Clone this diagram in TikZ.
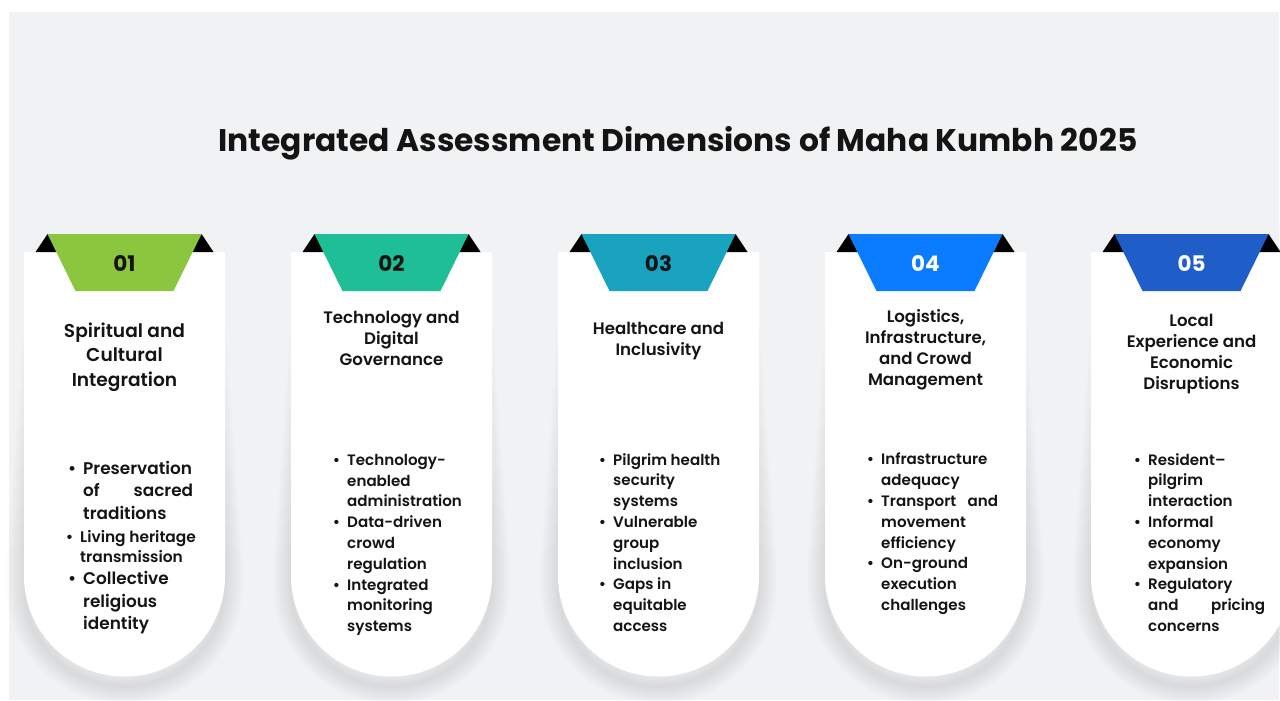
\documentclass[tikz,border=0pt]{standalone}
\usepackage{fontspec}
\setmainfont{Poppins}
\newfontfamily\pmed{Poppins Medium}
\newfontfamily\psemi{Poppins SemiBold}
\definecolor{bgc}{HTML}{F1F2F4}
\definecolor{cA}{HTML}{8CC63E}
\definecolor{cB}{HTML}{1EBE96}
\definecolor{cC}{HTML}{1AA3BF}
\definecolor{cD}{HTML}{0A7CFF}
\definecolor{cE}{HTML}{1F5EC9}
\definecolor{ink}{HTML}{141414}
\newcommand\bl{\llap{\textbullet\hspace{7pt}}}
\newcommand\drawcard[2]{%
  \foreach \w in {3,6,...,36}{%
    \draw[line width=\w pt, draw=black, draw opacity=0.007, yshift=-10pt, line cap=round]
      (#1,-300-7*\w) -- (#1,-576) arc[start angle=180,end angle=360,radius=100.5] -- (#1+201,-300-7*\w);}
  \fill[white] (#1,-252) -- (#1,-576) arc[start angle=180,end angle=360,radius=100.5] -- (#1+201,-252) -- cycle;
  \fill[black] (#1+11.5,-252) -- (#1+23.5,-234) -- (#1+35.5,-252) -- cycle;
  \fill[black] (#1+189.5,-252) -- (#1+177.5,-234) -- (#1+165.5,-252) -- cycle;
  \fill[#2] (#1+23.5,-234) -- (#1+177.5,-234) -- (#1+149.5,-291) -- (#1+51.5,-291) -- cycle;
}
\tikzset{
  numtxt/.style={font=\bfseries\fontsize{21.5}{21.5}\selectfont, inner sep=0pt},
  headtxt/.style={font=\psemi\fontsize{16.6}{21}\selectfont, align=center, inner sep=0pt, text=ink},
  bultxt/.style={font=\psemi\fontsize{15.1}{20.8}\selectfont, align=left, inner sep=0pt, anchor=north west, text=ink},
}
\begin{document}
\begin{tikzpicture}[x=1pt,y=1pt]
\useasboundingbox (0,0) rectangle (1280,-701);
\clip (0,0) rectangle (1280,-701);
\fill[white] (0,0) rectangle (1280,-701);
\fill[bgc] (9,-12) rectangle (1279,-700);

\node[font=\bfseries\fontsize{31.3}{34}\selectfont, text=ink, inner sep=0pt] (title) at (678,-143) {Integrated Assessment Dimensions of Maha Kumbh 2025};

\drawcard{24}{cA}
\drawcard{291}{cB}
\drawcard{558}{cC}
\drawcard{825}{cD}
\drawcard{1091}{cE}

\node[numtxt, text=ink] (n1) at (124.5,-263.5) {01};
\node[numtxt, text=ink] (n2) at (391.5,-263.5) {02};
\node[numtxt, text=ink] (n3) at (658.5,-263.5) {03};
\node[numtxt, text=white] (n4) at (925.5,-263.5) {04};
\node[numtxt, text=white] (n5) at (1191.5,-263.5) {05};

\node[headtxt, font=\psemi\fontsize{18.6}{24.5}\selectfont] (h1) at (124.5,-357) {Spiritual and\\Cultural\\Integration};
\node[headtxt] (h2) at (391.5,-338.5) {Technology and\\Digital\\Governance};
\node[headtxt] (h3) at (658.5,-341.5) {Healthcare and\\Inclusivity};
\node[headtxt] (h4) at (925.5,-350) {Logistics,\\Infrastructure,\\and Crowd\\Management};
\node[headtxt] (h5) at (1191.5,-354) {Local\\Experience and\\Economic\\Disruptions};

\node[bultxt, font=\psemi\fontsize{16.9}{22.4}\selectfont] (b1) at (83,-461) {\bl Preservation\\ \makebox[110pt][s]{of sacred}\\ traditions\\[0.5pt] {\fontsize{15.4}{20}\selectfont\hspace*{-3pt}\bl Living heritage}\\[-2pt] {\fontsize{15.4}{20}\selectfont\hspace*{-3pt}transmission}\\ \bl Collective\\ religious\\ identity};
\node[bultxt] (b2) at (347,-454) {\bl Technology-\\ enabled\\ administration\\ \bl Data-driven\\ crowd\\ regulation\\ \bl Integrated\\ monitoring\\ systems};
\node[bultxt] (b3) at (613,-453) {\bl Pilgrim health\\ security\\ systems\\ \bl Vulnerable\\ group\\ inclusion\\ \bl Gaps in\\ equitable\\ access};
\node[bultxt] (b4) at (881,-453) {\bl Infrastructure\\ adequacy\\ \bl \makebox[117pt][s]{Transport and}\\ movement\\ efficiency\\ \bl On-ground\\ execution\\ challenges};
\node[bultxt] (b5) at (1148,-453) {\bl Resident–\\ pilgrim\\ interaction\\ \bl Informal\\ economy\\ expansion\\ \bl Regulatory\\ \makebox[117pt][s]{and pricing}\\ concerns};
\end{tikzpicture}
\end{document}
